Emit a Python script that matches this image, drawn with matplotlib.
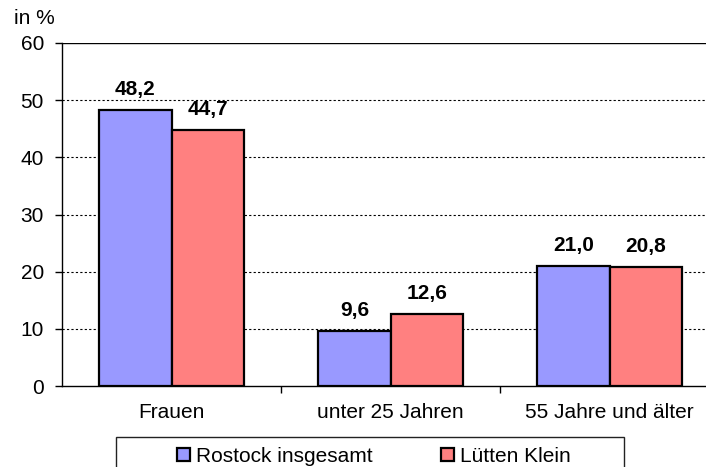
import numpy as np
import matplotlib.pyplot as plt
from matplotlib.patches import Rectangle

plt.rcParams['font.family'] = ['Liberation Sans', 'DejaVu Sans']

categories = ["Frauen", "unter 25 Jahren", "55 Jahre und älter"]
rostock = [48.2, 9.6, 21.0]
luetten = [44.7, 12.6, 20.8]
series_names = ["Rostock insgesamt", "Lütten Klein"]
colors = ["#9999FF", "#FF8080"]

W, H = 706, 467
fig = plt.figure(figsize=(W / 100, H / 100), dpi=100)
ax = fig.add_axes([62 / W, (H - 386) / H, 657 / W, (386 - 43) / H])

x = np.arange(len(categories))
bw = 0.33
fs = 15

bars = []
for i, (vals, name, c) in enumerate(zip([rostock, luetten], series_names, colors)):
    b = ax.bar(x + (i - 0.5) * bw, vals, bw, color=c, edgecolor="black",
               linewidth=1.6, label=name, zorder=3)
    bars.append(b)
    for xi, v in zip(x + (i - 0.5) * bw, vals):
        ax.annotate(f"{v:.1f}".replace(".", ","), (xi, v), xytext=(0, 8),
                    textcoords="offset points", ha="center", va="bottom",
                    fontsize=fs, fontweight="bold")

ax.set_xlim(-0.5, 2.5)
ax.set_ylim(0, 60)
ax.set_yticks(np.arange(0, 61, 10))
for yv in range(10, 60, 10):
    ax.axhline(yv, color="black", linewidth=0.8, linestyle=(0, (2, 2)), zorder=1)
ax.axhline(60, color="black", linewidth=1.0, zorder=1)

ax.set_xticks(x)
ax.set_xticklabels(categories)
ax.set_xticks([0.5, 1.5], minor=True)
ax.tick_params(axis="x", which="major", length=0, pad=12.5, labelsize=fs)
ax.tick_params(axis="x", which="minor", length=5, width=1, direction="out")
ax.tick_params(axis="y", length=5, width=1, direction="out", pad=8, labelsize=fs)

for s in ["top", "right"]:
    ax.spines[s].set_visible(False)
for s in ["left", "bottom"]:
    ax.spines[s].set_linewidth(1.0)

fig.text(14 / W, 1 - 18 / H, "in %", fontsize=fs, ha="left", va="center")

fig.legend(handles=bars, labels=series_names, loc="center",
           bbox_to_anchor=(374 / W, 1 - 456 / H), ncol=2, frameon=False,
           fontsize=fs, handlelength=0.6, handleheight=0.6,
           handletextpad=0.3, columnspacing=3.3)
fig.patches.append(Rectangle((116 / W, -0.1), 508 / W, (H - 437) / H + 0.1,
                             transform=fig.transFigure, fill=False,
                             edgecolor="#222222", linewidth=1.0))

fig.savefig("out.png", dpi=100)
